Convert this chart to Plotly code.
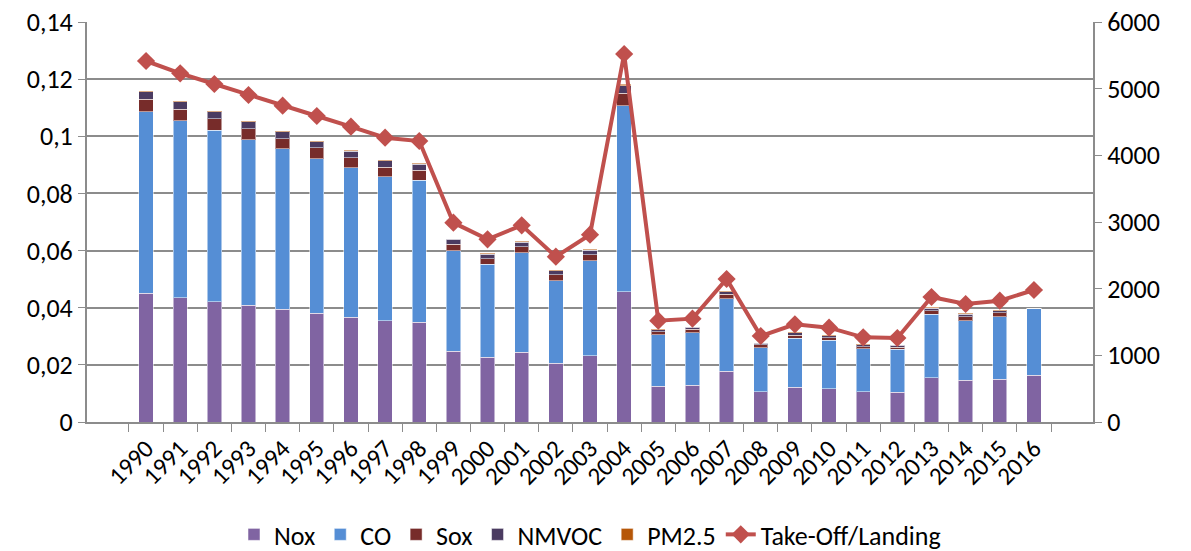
import plotly.graph_objects as go

years = [str(y) for y in range(1990, 2017)]

nox = [0.0450, 0.0435, 0.0421, 0.0408, 0.0394, 0.0380, 0.0366, 0.0354, 0.0349,
       0.0247, 0.0226, 0.0244, 0.0205, 0.0232, 0.0456,
       0.0125, 0.0128, 0.0177, 0.0106, 0.0121, 0.0117, 0.0106, 0.0104,
       0.0155, 0.0146, 0.0149, 0.0163]
co = [0.0636, 0.0619, 0.0600, 0.0580, 0.0562, 0.0542, 0.0524, 0.0504, 0.0498,
      0.0352, 0.0326, 0.0349, 0.0290, 0.0333, 0.0651,
      0.0180, 0.0185, 0.0254, 0.0154, 0.0173, 0.0169, 0.0151, 0.0150,
      0.0223, 0.0209, 0.0219, 0.0234]
sox = [0.0044, 0.0041, 0.0041, 0.0039, 0.0036, 0.0038, 0.0035, 0.0033, 0.0035,
       0.0023, 0.0019, 0.0021, 0.0020, 0.0021, 0.0043,
       0.0011, 0.0011, 0.0016, 0.0010, 0.0009, 0.0009, 0.0007, 0.0008,
       0.0012, 0.0014, 0.0015, 0.0]
nmvoc = [0.0026, 0.0026, 0.0024, 0.0024, 0.0024, 0.0021, 0.0022, 0.0023, 0.0020,
         0.0017, 0.0016, 0.0016, 0.0014, 0.0015, 0.0027,
         0.0007, 0.0007, 0.0009, 0.0005, 0.0009, 0.0007, 0.0007, 0.0006,
         0.0009, 0.0009, 0.0007, 0.0]
pm25 = [0.0004, 0.0004, 0.0004, 0.0004, 0.0004, 0.0004, 0.0004, 0.0004, 0.0004,
        0.0003, 0.0003, 0.0003, 0.0003, 0.0003, 0.0005,
        0.0002, 0.0002, 0.0002, 0.0002, 0.0002, 0.0002, 0.0002, 0.0002,
        0.0002, 0.0002, 0.0002, 0.0]
takeoff_landing = [5415, 5230, 5070, 4905, 4745, 4590, 4430, 4265, 4215,
                   2990, 2740, 2950, 2480, 2810, 5520,
                   1520, 1550, 2145, 1290, 1465, 1415, 1270, 1260,
                   1875, 1770, 1820, 1980]

font = "Carlito, Lato, Liberation Sans, sans-serif"
grid = "#8c8c8c"

fig = go.Figure()
bar_series = [("Nox", nox, "#8064A2"), ("CO", co, "#558ED5"),
              ("Sox", sox, "#772C2A"), ("NMVOC", nmvoc, "#4B3B61"),
              ("PM2.5", pm25, "#B65708")]
for name, vals, color in bar_series:
    fig.add_trace(go.Bar(x=years, y=vals, name=name, marker_color=color,
                         marker_line=dict(color="rgba(255,255,255,0.5)", width=1)))

fig.add_trace(go.Scatter(x=years, y=takeoff_landing, name="Take-Off/Landing",
                         mode="lines+markers", yaxis="y2",
                         line=dict(color="#C0504D", width=4),
                         marker=dict(symbol="diamond", size=14, color="#C0504D")))

fig.update_layout(
    barmode="stack",
    bargap=0.58,
    width=1191, height=551,
    margin=dict(l=87, r=98, t=22, b=129, autoexpand=False),
    plot_bgcolor="white", paper_bgcolor="white",
    separators=", ",
    font=dict(family=font, size=26, color="#000000"),
    xaxis=dict(type="category", tickangle=-45, showgrid=False, automargin=False,
               showline=True, linecolor=grid, linewidth=2,
               ticks="outside", tickson="boundaries", ticklen=8, tickcolor=grid,
               tickfont=dict(size=25)),
    yaxis=dict(range=[0, 0.14], dtick=0.02, showgrid=True, gridcolor=grid,
               gridwidth=2, showline=True, linecolor=grid, linewidth=2,
               automargin=False, ticklabeloverflow="allow",
               ticks="outside", ticklen=7, tickcolor=grid, zeroline=False,
               tickfont=dict(size=26)),
    yaxis2=dict(range=[0, 6000], dtick=1000, overlaying="y", side="right",
                showgrid=False, showline=True, linecolor=grid, linewidth=2,
                automargin=False, ticklabeloverflow="allow",
                ticks="outside", ticklen=7, tickcolor=grid, zeroline=False,
                tickfont=dict(size=26)),
    legend=dict(orientation="h", x=0.5, xanchor="center",
                yref="container", y=0.03, yanchor="middle",
                font=dict(size=26), traceorder="normal"),
)

# drop the default 8px page margin so the figure sits at the window corner
fig.write_html("out.html", config={"displayModeBar": False},
               post_script="document.body.style.margin='0';document.body.style.overflow='hidden';")
